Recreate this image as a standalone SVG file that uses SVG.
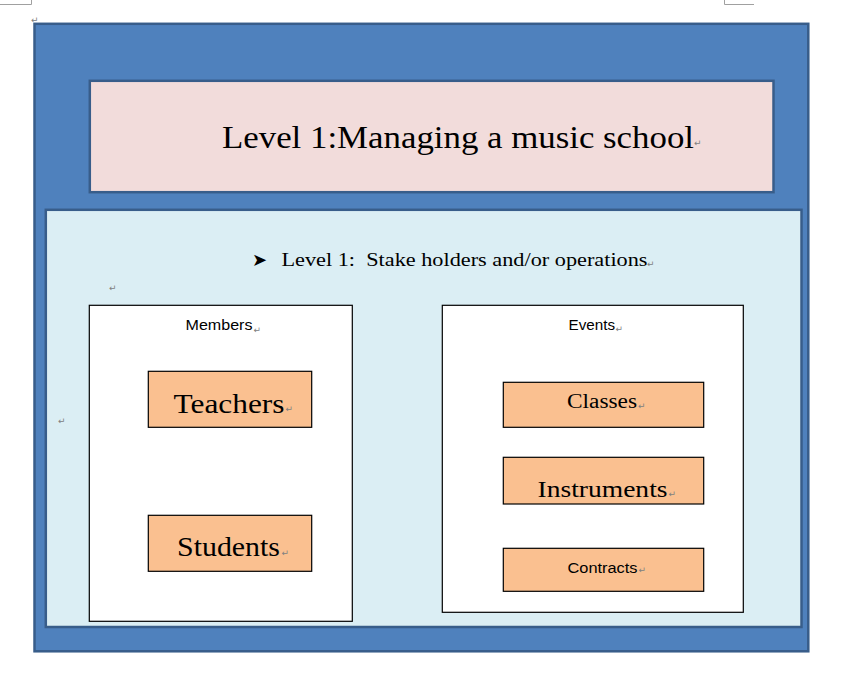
<svg xmlns="http://www.w3.org/2000/svg" width="864" height="691" viewBox="0 0 864 691">
<style>
.frame{stroke:#385D8A;stroke-width:2.5}
.box{fill:#FFFFFF;stroke:#000000;stroke-width:1.2}
.item{fill:#FAC090;stroke:#000000;stroke-width:1.2}
.mono{font-family:"Liberation Serif","DejaVu Serif",serif;fill:#000000;white-space:pre}
.sans{font-family:"Liberation Sans","Noto Sans",sans-serif;fill:#000000}
.pm{font-family:"DejaVu Sans",sans-serif;font-size:9px;fill:#808080}
.crop{fill:none;stroke:#A0A0A0;stroke-width:1}
</style>
<rect width="864" height="691" fill="#FFFFFF"/>
<g id="cropmarks">
<polyline class="crop" points="0,4.5 31.5,4.5 31.5,0"/>
<polyline class="crop" points="724.5,0 724.5,4.5 754,4.5"/>
<text class="pm" x="31" y="23">↵</text>
</g>
<g id="outer">
<rect class="frame" x="34.5" y="23.8" width="773.8" height="627.5" fill="#4F81BD"/>
</g>
<g id="title">
<rect class="frame" x="89.8" y="80.8" width="683.7" height="111.4" fill="#F2DCDB"/>
<text class="mono" x="222" y="147.5" font-size="32" textLength="472" lengthAdjust="spacingAndGlyphs">Level 1:Managing a music school</text>
<text class="pm" x="694" y="146">↵</text>
</g>
<g id="level1">
<rect class="frame" x="45.8" y="209.8" width="755.7" height="417.2" fill="#DBEEF4"/>
<text x="252" y="266" font-family="DejaVu Sans,sans-serif" font-size="18" fill="#000000">➤</text>
<text class="mono" x="281.5" y="266" font-size="18" textLength="366" lengthAdjust="spacingAndGlyphs">Level 1:  Stake holders and/or operations</text>
<text class="pm" x="647" y="267">↵</text>
<text class="pm" x="109" y="291">↵</text>
<text class="pm" x="58" y="424">↵</text>
</g>
<g id="members">
<rect class="box" x="89.3" y="305.3" width="263" height="316"/>
<text class="sans" x="185.5" y="330" font-size="15" textLength="67" lengthAdjust="spacingAndGlyphs">Members</text>
<text class="pm" x="253.5" y="333">↵</text>
</g>
<g id="teachers">
<rect class="item" x="148.3" y="371.3" width="163.4" height="56"/>
<text class="mono" x="173.5" y="412.5" font-size="27" textLength="111" lengthAdjust="spacingAndGlyphs">Teachers</text>
<text class="pm" x="285.5" y="412">↵</text>
</g>
<g id="students">
<rect class="item" x="148.3" y="515.3" width="163.4" height="56"/>
<text class="mono" x="177" y="555.5" font-size="27" textLength="103" lengthAdjust="spacingAndGlyphs">Students</text>
<text class="pm" x="281.5" y="556">↵</text>
</g>
<g id="events">
<rect class="box" x="442.3" y="305.3" width="301" height="307"/>
<text class="sans" x="568.5" y="329.5" font-size="15" textLength="46.5" lengthAdjust="spacingAndGlyphs">Events</text>
<text class="pm" x="615.5" y="332">↵</text>
</g>
<g id="classes">
<rect class="item" x="503.3" y="382.3" width="200.4" height="45"/>
<text class="mono" x="567" y="408" font-size="20" textLength="70" lengthAdjust="spacingAndGlyphs">Classes</text>
<text class="pm" x="638" y="409">↵</text>
</g>
<g id="instruments">
<rect class="item" x="503.3" y="457.3" width="200.4" height="46.7"/>
<text class="mono" x="537.5" y="497" font-size="24" textLength="130" lengthAdjust="spacingAndGlyphs">Instruments</text>
<text class="pm" x="668.5" y="497">↵</text>
</g>
<g id="contracts">
<rect class="item" x="503.3" y="548.3" width="200.4" height="43"/>
<text class="sans" x="567.5" y="573" font-size="15.5" textLength="70" lengthAdjust="spacingAndGlyphs">Contracts</text>
<text class="pm" x="638.5" y="573">↵</text>
</g>
<g id="connectors"/>
</svg>
